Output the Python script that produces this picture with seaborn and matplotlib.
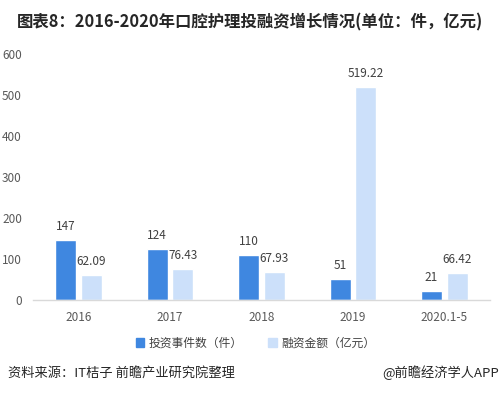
import pandas as pd
import matplotlib.pyplot as plt
import seaborn as sns
from matplotlib.patches import Patch

years = ["2016", "2017", "2018", "2019", "2020.1-5"]
deal_counts = [147, 124, 110, 51, 21]
funding = [62.09, 76.43, 67.93, 519.22, 66.42]
series_names = ["投资事件数（件）", "融资金额（亿元）"]
colors = ["#3F87E0", "#CCE0FA"]

df = pd.DataFrame({
    "year": years * 2,
    "value": deal_counts + funding,
    "series": [series_names[0]] * 5 + [series_names[1]] * 5,
})

sns.set_style("white")
plt.rcParams["font.family"] = ["Noto Sans CJK SC", "DejaVu Sans"]

fig = plt.figure(figsize=(5.01, 3.95), dpi=100)
ax = fig.add_axes([33 / 501, 1 - 300 / 395, 457 / 501, 246 / 395])

sns.barplot(data=df, x="year", y="value", hue="series", palette=colors,
            width=0.56, gap=0.18, legend=False, ax=ax, saturation=1)

for cont, fmt in zip(ax.containers, ["{:.0f}", "{:.2f}"]):
    labels = [fmt.format(v) for v in cont.datavalues]
    ax.bar_label(cont, labels=labels, padding=5, fontsize=8.5, color="#404040")

ax.set_ylim(0, 600)
ax.set_yticks(range(0, 601, 100))
ax.set_xlim(-0.5, 4.5)
ax.set_xlabel("")
ax.set_ylabel("")
ax.tick_params(axis="both", length=0, labelsize=8.5, colors="#595959")
ax.tick_params(axis="y", pad=8)
ax.tick_params(axis="x", pad=8)
for s in ["top", "right", "left"]:
    ax.spines[s].set_visible(False)
ax.spines["bottom"].set_color("#D9D9D9")
ax.spines["bottom"].set_linewidth(1)

fig.text(0.5, 1 - 22 / 395, "图表8：2016-2020年口腔护理投融资增长情况(单位：件，亿元)",
         ha="center", va="center", fontsize=11.8, fontweight="bold", color="#262626")

handles = [Patch(color=c) for c in colors]
fig.legend(handles, series_names, loc="center", bbox_to_anchor=(0.51, 1 - 343 / 395),
           ncol=2, frameon=False, fontsize=8.5, handlelength=0.7, handleheight=0.7,
           handletextpad=0.4, columnspacing=2.2, labelcolor="#404040")

fig.text(8 / 501, 1 - 373 / 395, "资料来源：IT桔子 前瞻产业研究院整理",
         ha="left", va="center", fontsize=9.5, color="#262626")
fig.text(499 / 501, 1 - 373 / 395, "@前瞻经济学人APP",
         ha="right", va="center", fontsize=9.5, color="#262626")

fig.savefig("out.png", dpi=100)
